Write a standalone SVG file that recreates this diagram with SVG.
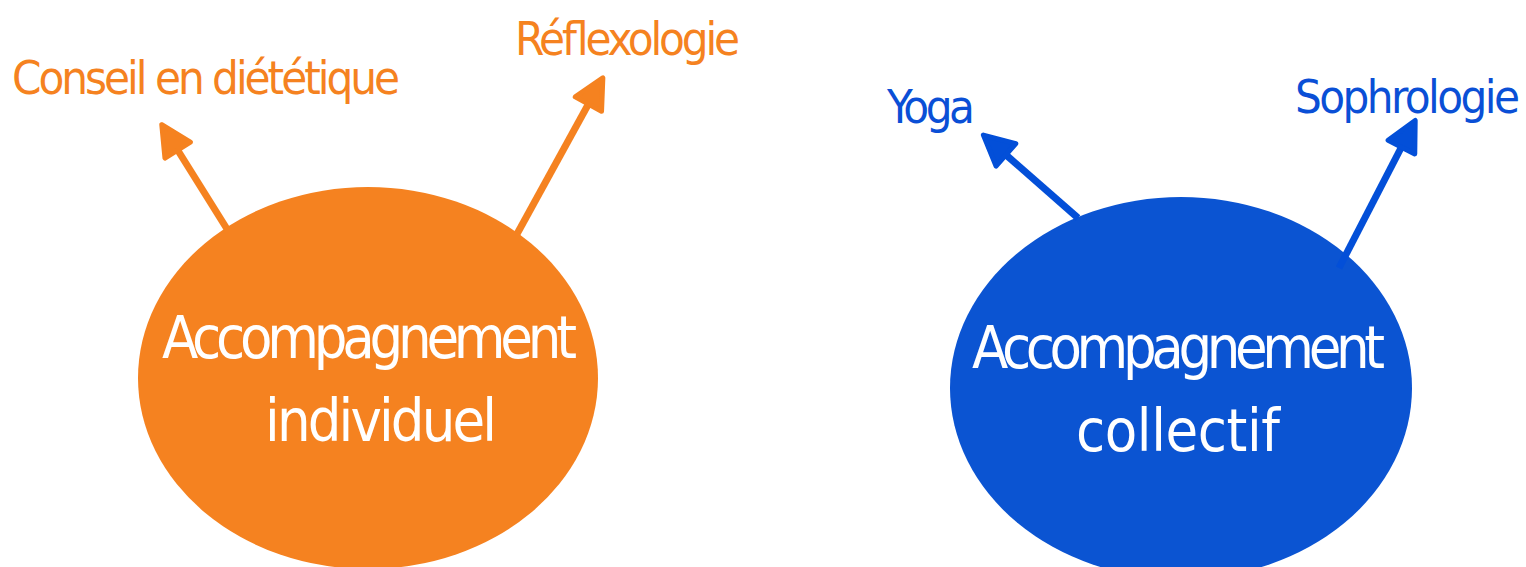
<svg xmlns="http://www.w3.org/2000/svg" width="1526" height="567" viewBox="0 0 1526 567">
<style>
text{font-family:"DejaVu Sans Condensed","Liberation Sans Narrow","Liberation Sans",sans-serif;}
.lbl{font-size:47px;}
.or{fill:#F58220;}
.bl{fill:#0A4FD6;}
.in{fill:#FFFFFF;font-size:59px;}
.con{stroke-width:7;fill:none;stroke-linecap:butt;}
</style>
<defs>
<marker id="ao" markerUnits="userSpaceOnUse" markerWidth="40" markerHeight="40" viewBox="-3 -15 32 30" refX="1" refY="0" orient="auto" overflow="visible">
<path d="M0,-12 L24,0 L0,12 Z" fill="#F58220" stroke="#F58220" stroke-width="4" stroke-linejoin="round"/>
</marker>
<marker id="ab" markerUnits="userSpaceOnUse" markerWidth="40" markerHeight="40" viewBox="-3 -15 32 30" refX="1" refY="0" orient="auto" overflow="visible">
<path d="M0,-12 L24,0 L0,12 Z" fill="#034FD8" stroke="#034FD8" stroke-width="4" stroke-linejoin="round"/>
</marker>
</defs>
<g id="node-individuel">
<ellipse cx="368" cy="378" rx="230" ry="191" fill="#F58220"/>
<text class="in" x="162" y="358" textLength="415" lengthAdjust="spacing">Accompagnement</text>
<text class="in" x="265" y="441" textLength="232" lengthAdjust="spacing">individuel</text>
</g>
<g id="node-collectif">
<ellipse cx="1181" cy="388" rx="231" ry="191" fill="#0B54D2"/>
<text class="in" x="972" y="368" textLength="413" lengthAdjust="spacing">Accompagnement</text>
<text class="in" x="1076" y="451" textLength="204" lengthAdjust="spacing">collectif</text>
</g>
<g id="node-dietetique">
<text class="lbl or" x="12" y="94" textLength="388" lengthAdjust="spacing">Conseil en diététique</text>
</g>
<g id="node-reflexologie">
<text class="lbl or" x="515" y="55" textLength="225" lengthAdjust="spacing">Réflexologie</text>
</g>
<g id="node-yoga">
<text class="lbl bl" x="887" y="123" textLength="88" lengthAdjust="spacing">Yoga</text>
</g>
<g id="node-sophrologie">
<text class="lbl bl" x="1295" y="113" textLength="225" lengthAdjust="spacing">Sophrologie</text>
</g>
<g id="connectors">
<line class="con" x1="227" y1="229" x2="177" y2="149" stroke="#F58220" marker-end="url(#ao)"/>
<line class="con" x1="517" y1="234" x2="589" y2="103" stroke="#F58220" marker-end="url(#ao)"/>
<line class="con" x1="1078" y1="218" x2="1005" y2="154" stroke="#034FD8" marker-end="url(#ab)"/>
<line class="con" x1="1339" y1="268" x2="1402" y2="146" stroke="#034FD8" marker-end="url(#ab)"/>
</g>
</svg>
